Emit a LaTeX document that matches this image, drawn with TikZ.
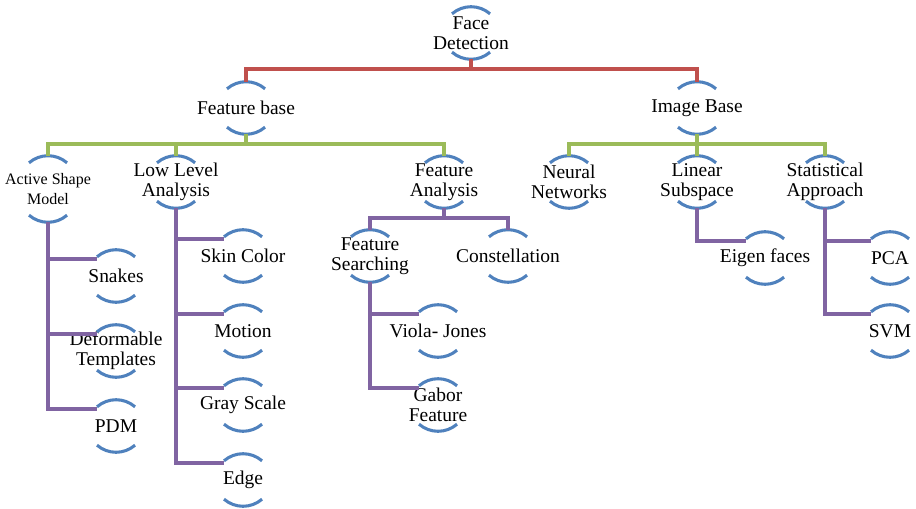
\documentclass[tikz,border=0pt]{standalone}
\usepackage{fontspec}
\setmainfont{Liberation Serif}
\definecolor{ringblue}{RGB}{79,129,189}
\definecolor{linered}{RGB}{192,80,77}
\definecolor{linegreen}{RGB}{155,187,89}
\definecolor{linepurple}{RGB}{128,100,162}
\begin{document}
\begin{tikzpicture}[x=0.75pt,y=-0.75pt,
    item/.style={align=center,inner sep=0pt,minimum height=39pt,
      font=\fontsize{14.6}{15}\selectfont},
    ring/.style={ringblue,line width=2.3pt},
    redline/.style={linered,line width=3pt},
    greenline/.style={linegreen,line width=3pt},
    purpleline/.style={linepurple,line width=3pt}]
      \useasboundingbox (0,0) rectangle (916,509);
      % levels 0 and 1
      \node[item] (root) at (471,33) {Face\\Detection};
      \node[item] (feat) at (246,108) {Feature base};
      \node[item] (img) at (697,108) {Image Base};
      % level 2
      \node[item,minimum height=49.5pt,font=\fontsize{12}{15}\selectfont] (asm) at (48,189) {Active Shape\\Model};
      \node[item] (low) at (176,182) {Low Level\\Analysis};
      \node[item] (fana) at (444,182) {Feature\\Analysis};
      \node[item] (neur) at (569,182) {Neural\\Networks};
      \node[item] (lin) at (697,182) {Linear\\Subspace};
      \node[item] (stat) at (825,182) {Statistical\\Approach};
      % leaves
      \node[item] (snakes) at (116,276) {Snakes};
      \node[item] (deform) at (116,351) {Deformable\\Templates};
      \node[item] (pdm) at (116,426) {PDM};
      \node[item] (skin) at (243,256) {Skin Color};
      \node[item] (motion) at (243,331) {Motion};
      \node[item] (gray) at (243,405) {Gray Scale};
      \node[item] (edge) at (243,480) {Edge};
      \node[item] (fsearch) at (370,256) {Feature\\Searching};
      \node[item] (const) at (508,256) {Constellation};
      \node[item] (viola) at (438,331) {Viola- Jones};
      \node[item] (gabor) at (438,405) {Gabor\\Feature};
      \node[item] (eigen) at (765,258) {Eigen faces};
      \node[item] (pca) at (890,258) {PCA};
      \node[item] (svm) at (890,331) {SVM};
      % arcs above and below each item
      \foreach \n in {root,feat,img,asm,low,fana,neur,lin,stat,snakes,deform,pdm,skin,motion,gray,edge,fsearch,const,viola,gabor,eigen,pca,svm}{
        \draw[ring] ([shift={(-19,7.1)}]\n.north) arc[start angle=229,end angle=311,radius=29];
        \draw[ring] ([shift={(-19,-7.1)}]\n.south) arc[start angle=131,end angle=49,radius=29];
      }
      % connectors
      \foreach \c in {feat,img}
        \draw[redline] (root.south) -- ++(0,10) -| (\c.north);
      \foreach \c in {asm,low,fana}
        \draw[greenline] (feat.south) -- ++(0,10) -| (\c.north);
      \foreach \c in {neur,lin,stat}
        \draw[greenline] (img.south) -- ++(0,10) -| (\c.north);
      \foreach \c in {fsearch,const}
        \draw[purpleline] (fana.south) -- ++(0,10) -| (\c.north);
      \foreach \p/\c in {asm/snakes,asm/deform,asm/pdm,low/skin,low/motion,low/gray,low/edge,fsearch/viola,fsearch/gabor,lin/eigen,stat/pca,stat/svm}
        \draw[purpleline] (\p.south) |- ([shift={(-19,9)}]\c.north);
    \end{tikzpicture}
\end{document}
